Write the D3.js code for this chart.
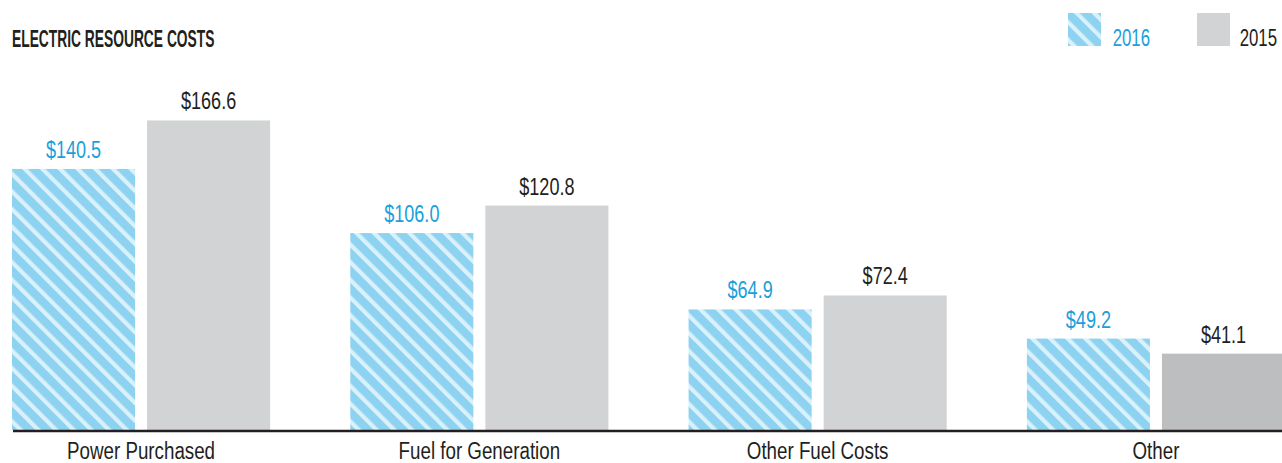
<!DOCTYPE html>
<html>
<head>
<meta charset="utf-8">
<script src="https://cdn.jsdelivr.net/npm/d3@7"></script>
<style>
  html, body { margin: 0; padding: 0; background: #fff; }
  svg { display: block; }
  text { font-family: "Liberation Sans Narrow", "Liberation Sans", "DejaVu Sans Condensed", sans-serif; }
</style>
</head>
<body>
<svg id="chart" width="1282" height="463"></svg>
<script>
const categories = ["Power Purchased", "Fuel for Generation", "Other Fuel Costs", "Other"];
const series = ["2016", "2015"];
const values2016 = [140.5, 106.0, 64.9, 49.2];
const values2015 = [166.6, 120.8, 72.4, 41.1];
const valueLabels2016 = ["$140.5", "$106.0", "$64.9", "$49.2"];
const valueLabels2015 = ["$166.6", "$120.8", "$72.4", "$41.1"];
const title = "ELECTRIC RESOURCE COSTS";

const W = 1282, H = 463;
const baseY = 430;
const blueText = "#1ba0da";
const darkText = "#231f20";
const gray = "#d1d3d4";
const grayDark = "#bcbec0";
const fill2015 = [gray, gray, gray, grayDark];

const svg = d3.select("#chart");

// condense helper: narrow the rendered text horizontally
function condense(sel, f) {
  sel.each(function () {
    const len = this.getComputedTextLength();
    d3.select(this).attr("textLength", len * f).attr("lengthAdjust", "spacingAndGlyphs");
  });
}

// stripe pattern
const defs = svg.append("defs");
const pat = defs.append("pattern")
  .attr("id", "stripes")
  .attr("patternUnits", "userSpaceOnUse")
  .attr("width", 12.5).attr("height", 12.5)
  .attr("patternTransform", "rotate(-45)");
pat.append("rect").attr("width", 12.5).attr("height", 12.5).attr("fill", "#8dd2f1");
pat.append("rect").attr("x", 0).attr("width", 4.2).attr("height", 12.5).attr("fill", "#d9f1fb");

const y = d3.scaleLinear().domain([0, 180]).range([baseY, baseY - 180 * 1.858]);
const x0 = d3.scaleBand().domain(categories).range([12, 1285]).paddingInner(0.237).paddingOuter(0);
const x1 = d3.scaleBand().domain(series).range([0, x0.bandwidth()]).paddingInner(0.089);

const rows = categories.map((c, i) => ({
  cat: c,
  bars: [
    { s: "2016", v: values2016[i], label: valueLabels2016[i], fill: "url(#stripes)", color: blueText },
    { s: "2015", v: values2015[i], label: valueLabels2015[i], fill: fill2015[i], color: darkText }
  ]
}));

const g = svg.append("g");
const groups = g.selectAll("g.grp").data(rows).join("g")
  .attr("class", "grp")
  .attr("transform", d => `translate(${x0(d.cat)},0)`);

groups.selectAll("rect").data(d => d.bars).join("rect")
  .attr("x", d => x1(d.s))
  .attr("y", d => y(d.v))
  .attr("width", x1.bandwidth())
  .attr("height", d => y(0) - y(d.v))
  .attr("fill", d => d.fill);

const vals = groups.selectAll("text.val").data(d => d.bars).join("text")
  .attr("class", "val")
  .attr("x", d => x1(d.s) + x1.bandwidth() / 2)
  .attr("y", d => y(d.v) - 11)
  .attr("text-anchor", "middle")
  .attr("font-size", 23)
  .attr("fill", d => d.color)
  .text(d => d.label);
condense(vals, 0.785);

// baseline axis
const xAxis = d3.axisBottom(x0).tickSize(0).tickPadding(0);
const ax = svg.append("g").attr("transform", `translate(0,${baseY + 1})`).call(xAxis);
ax.select(".domain").attr("d", `M13,0H${W}`).attr("stroke", darkText).attr("stroke-width", 2.5);
const ticks = ax.selectAll(".tick text")
  .attr("y", 28)
  .attr("dy", null)
  .attr("font-size", 23)
  .attr("fill", darkText)
  .attr("font-family", "Liberation Sans Narrow, Liberation Sans, sans-serif");
condense(ticks, 0.815);

// title
const t = svg.append("text")
  .attr("x", 12).attr("y", 47)
  .attr("font-size", 24).attr("font-weight", "bold")
  .attr("fill", darkText)
  .text(title);
condense(t, 0.575);

// legend
const legendX = [1068, 1197];
const legendTextEnd = [1150, 1277];
const legendFill = ["url(#stripes)", gray];
const legendColor = [blueText, darkText];
const lg = svg.append("g").selectAll("g").data(series).join("g");
lg.append("rect")
  .attr("x", (d, i) => legendX[i]).attr("y", 13)
  .attr("width", 33).attr("height", 33).attr("fill", (d, i) => legendFill[i]);
const lt = lg.append("text")
  .attr("x", (d, i) => legendTextEnd[i]).attr("y", 46)
  .attr("text-anchor", "end")
  .attr("font-size", 23).attr("fill", (d, i) => legendColor[i]).text(d => d);
condense(lt, 0.73);
</script>
</body>
</html>
